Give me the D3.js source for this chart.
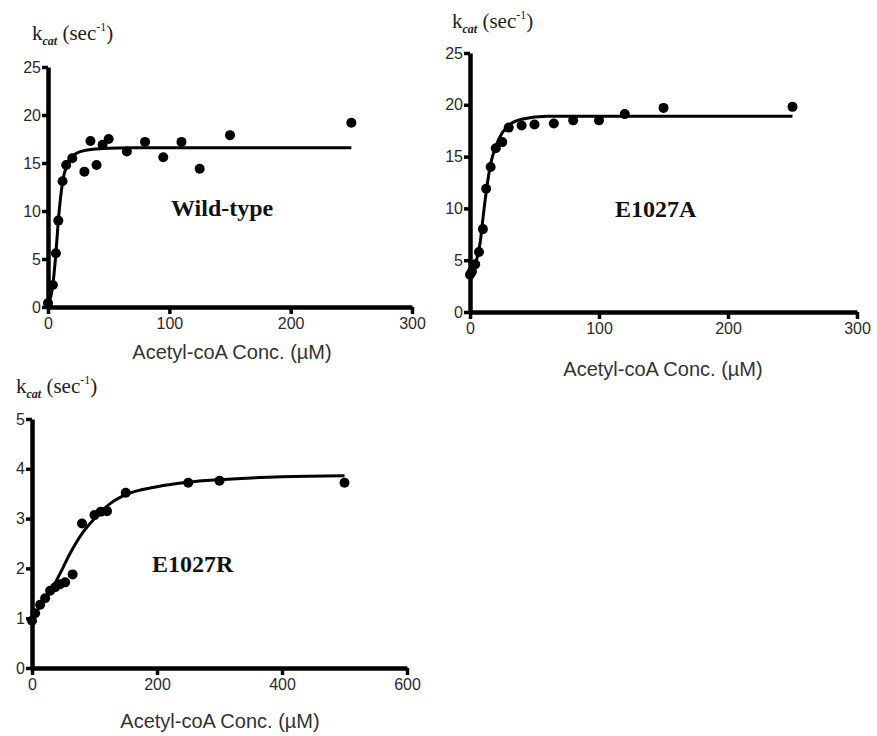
<!DOCTYPE html>
<html>
<head>
<meta charset="utf-8">
<script src="https://cdn.jsdelivr.net/npm/d3@7"></script>
<style>
  body { margin: 0; background: #fff; }
  svg { display: block; }
  .tick text { font-family: Arial, "Liberation Sans", sans-serif; fill: #2a2a2a; }
  .domain { stroke: #000; stroke-width: 4.5px; }
  .tick line { stroke: #000; stroke-width: 3.5px; }
</style>
</head>
<body>
<div id="chart"></div>
<script>
// Wild-type: measured points
const wtConc = [0, 4, 6.5, 8.5, 12, 15, 20, 30, 35, 40, 45, 50, 65, 80, 95, 110, 125, 150, 250];
const wtKcat = [0.4, 2.3, 5.6, 9.0, 13.1, 14.8, 15.5, 14.1, 17.3, 14.8, 16.9, 17.5, 16.2, 17.2, 15.6, 17.2, 14.4, 17.9, 19.2];
// Wild-type: fitted curve
const wtFitConc = [0, 4, 6.5, 8.5, 12, 16, 22, 30, 45, 70, 250];
const wtFitKcat = [0.2, 2.3, 5.6, 9.0, 13.0, 14.9, 15.9, 16.3, 16.5, 16.6, 16.6];

// E1027A
const eaConc = [0, 1.5, 4, 7, 10, 12.5, 16, 20, 25, 30, 40, 50, 65, 80, 100, 120, 150, 250];
const eaKcat = [3.6, 3.9, 4.6, 5.8, 8.0, 11.9, 14.0, 15.8, 16.4, 17.8, 18.0, 18.1, 18.2, 18.5, 18.5, 19.1, 19.7, 19.8];
const eaFitConc = [0, 5, 8, 10, 13, 16, 20, 25, 30, 40, 60, 250];
const eaFitKcat = [3.6, 5.0, 6.8, 9.0, 12.0, 14.3, 16.0, 17.3, 18.0, 18.6, 18.9, 18.9];

// E1027R
const erConc = [0, 5, 13, 21, 29, 37, 45, 53, 65, 80, 100, 110, 120, 150, 250, 300, 500];
const erKcat = [0.95, 1.1, 1.27, 1.4, 1.55, 1.62, 1.68, 1.72, 1.88, 2.9, 3.07, 3.14, 3.15, 3.52, 3.72, 3.76, 3.72];
const erFitConc = [0, 10, 20, 30, 45, 60, 80, 100, 125, 150, 200, 250, 300, 400, 500];
const erFitKcat = [1.0, 1.18, 1.36, 1.55, 1.9, 2.28, 2.7, 3.0, 3.3, 3.48, 3.64, 3.73, 3.78, 3.84, 3.86];

const xTicks300 = [0, 100, 200, 300];
const xTicks600 = [0, 200, 400, 600];
const yTicks25 = [0, 5, 10, 15, 20, 25];
const yTicks5 = [0, 1, 2, 3, 4, 5];

const xLabel = 'Acetyl-coA Conc. (\u00b5M)';

const svg = d3.select('#chart')
    .append('svg')
    .attr('width', 877)
    .attr('height', 736);

// one panel per mutant
function drawPanel(p) {
    const x = d3.scaleLinear().domain([0, p.xMax]).range([p.left, p.right]);
    const y = d3.scaleLinear().domain([0, p.yMax]).range([p.bottom, p.top]);
    const g = svg.append('g');

    const xAxis = g.append('g')
        .attr('transform', `translate(0,${p.bottom})`)
        .call(d3.axisBottom(x).tickValues(p.xTicks).tickFormat(d3.format('d'))
            .tickSize(7).tickPadding(4).tickSizeOuter(0));
    const yAxis = g.append('g')
        .attr('transform', `translate(${p.left},0)`)
        .call(d3.axisLeft(y).tickValues(p.yTicks).tickFormat(d3.format('d'))
            .tickSize(6).tickPadding(1).tickSizeOuter(0));

    [xAxis, yAxis].forEach(function(a) {
        a.selectAll('.tick text').attr('font-size', 16);
    });

    // fit line
    const line = d3.line()
        .x(function(d) { return x(d[0]); })
        .y(function(d) { return y(d[1]); })
        .curve(d3.curveMonotoneX);
    g.append('path')
        .datum(d3.zip(p.fitConc, p.fitKcat))
        .attr('d', line)
        .attr('fill', 'none')
        .attr('stroke', '#000')
        .attr('stroke-width', 3);

    g.selectAll('circle')
        .data(d3.zip(p.conc, p.kcat))
        .enter()
        .append('circle')
        .attr('cx', function(d) { return x(d[0]); })
        .attr('cy', function(d) { return y(d[1]); })
        .attr('r', 5)
        .attr('fill', '#000');

    // y title: k_cat (sec^-1)
    const t = g.append('text')
        .attr('x', p.titleX)
        .attr('y', p.titleY)
        .attr('font-family', '"Liberation Serif", "Times New Roman", serif')
        .attr('font-size', 21)
        .attr('fill', '#222');
    t.append('tspan').text('k');
    t.append('tspan').text('cat').attr('font-size', 12).attr('font-style', 'italic')
        .attr('font-weight', 'bold').attr('dy', 5);
    t.append('tspan').text(' (sec').attr('dy', -5);
    t.append('tspan').text('-1').attr('font-size', 12).attr('dy', -9);
    t.append('tspan').text(')').attr('dy', 9);

    g.append('text')
        .attr('x', p.xLabelX)
        .attr('y', p.xLabelY)
        .attr('text-anchor', 'middle')
        .attr('font-family', 'Arial, "Liberation Sans", sans-serif')
        .attr('font-size', 20)
        .attr('fill', '#333')
        .text(xLabel);

    g.append('text')
        .attr('x', p.nameX)
        .attr('y', p.nameY)
        .attr('font-family', '"Liberation Serif", "Times New Roman", serif')
        .attr('font-weight', 'bold')
        .attr('font-size', 24)
        .attr('fill', '#111')
        .text(p.name);
}

drawPanel({
    name: 'Wild-type', conc: wtConc, kcat: wtKcat, fitConc: wtFitConc, fitKcat: wtFitKcat,
    xMax: 300, yMax: 25, xTicks: xTicks300, yTicks: yTicks25,
    left: 48, right: 412, bottom: 307, top: 67,
    titleX: 32, titleY: 40, xLabelX: 232, xLabelY: 359, nameX: 171, nameY: 216
});
drawPanel({
    name: 'E1027A', conc: eaConc, kcat: eaKcat, fitConc: eaFitConc, fitKcat: eaFitKcat,
    xMax: 300, yMax: 25, xTicks: xTicks300, yTicks: yTicks25,
    left: 470, right: 857, bottom: 312, top: 53,
    titleX: 452, titleY: 28, xLabelX: 663, xLabelY: 376, nameX: 615, nameY: 217
});
drawPanel({
    name: 'E1027R', conc: erConc, kcat: erKcat, fitConc: erFitConc, fitKcat: erFitKcat,
    xMax: 600, yMax: 5, xTicks: xTicks600, yTicks: yTicks5,
    left: 32, right: 407, bottom: 668, top: 419,
    titleX: 16, titleY: 393, xLabelX: 220, xLabelY: 728, nameX: 152, nameY: 572
});
</script>
</body>
</html>
